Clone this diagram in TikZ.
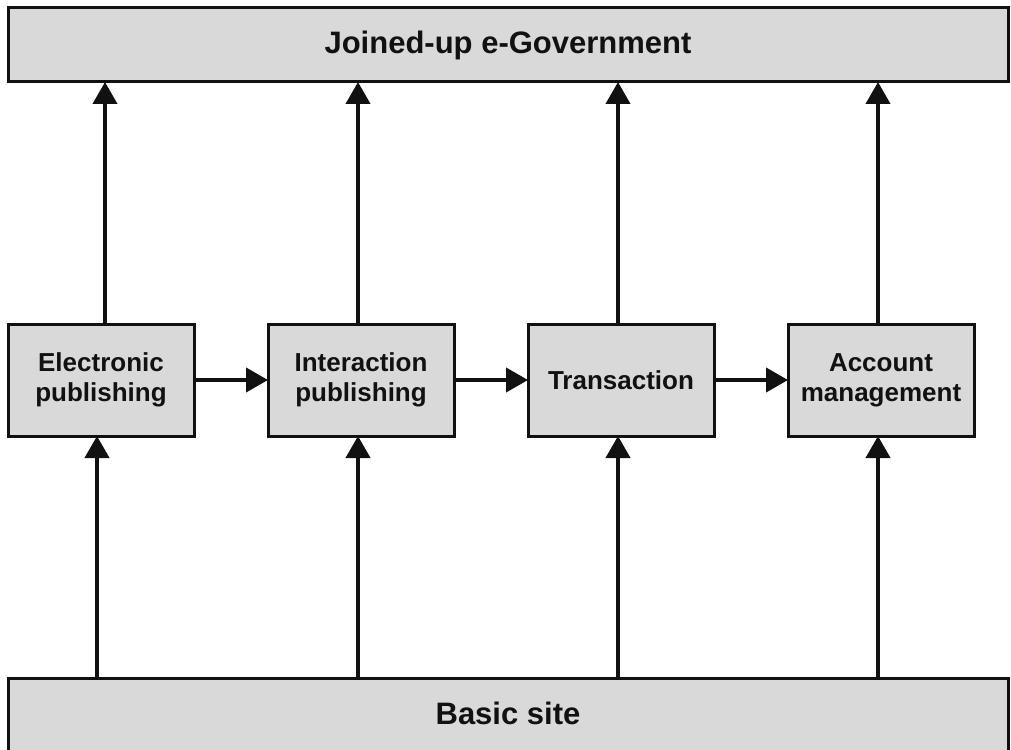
\documentclass[tikz,border=0pt]{standalone}
\usepackage{fontspec}
\setmainfont{Liberation Sans}
\usetikzlibrary{arrows.meta}
\definecolor{boxgray}{HTML}{D9D9D9}
\definecolor{ink}{HTML}{111111}
\tikzset{
  stage/.style={draw=ink, fill=boxgray, line width=3pt, minimum width=186pt, minimum height=112pt,
    align=center, inner sep=0pt, outer sep=0pt, text=ink,
    font=\fontsize{26}{30}\selectfont\bfseries},
  band/.style={draw=ink, fill=boxgray, line width=3pt, minimum width=1000pt, minimum height=74pt,
    inner sep=0pt, outer sep=0pt, text=ink, font=\fontsize{31}{36}\selectfont\bfseries},
  arr/.style={draw=ink, line width=4pt, -{Triangle[length=22pt,width=24pt]}}
}
\begin{document}
\begin{tikzpicture}[x=1pt,y=-1pt]
\useasboundingbox (0,0) rectangle (1011,749);
\clip (0,0) rectangle (1011,749);
\fill[white] (0,0) rectangle (1011,749);
\node[band] (top) at (508,45) {Joined-up e-Government};
\node[band] (bot) at (508,715) {\raisebox{3pt}{Basic site}};
\node[stage] (s1) at (101,380) {Electronic\\publishing};
\node[stage] (s2) at (361,380) {Interaction\\publishing};
\node[stage] (s3) at (621,380) {Transaction};
\node[stage] (s4) at (881,380) {Account\\management};
% up to top
\draw[arr] ([xshift=4pt]s1.north) -- ([xshift=4pt]s1.north |- top.south);
\draw[arr] ([xshift=-3pt]s2.north) -- ([xshift=-3pt]s2.north |- top.south);
\draw[arr] ([xshift=-3pt]s3.north) -- ([xshift=-3pt]s3.north |- top.south);
\draw[arr] ([xshift=-3pt]s4.north) -- ([xshift=-3pt]s4.north |- top.south);
% up from bottom
\draw[arr] ([xshift=-4pt]s1.south |- bot.north) -- ([xshift=-4pt]s1.south);
\draw[arr] ([xshift=-3pt]s2.south |- bot.north) -- ([xshift=-3pt]s2.south);
\draw[arr] ([xshift=-3pt]s3.south |- bot.north) -- ([xshift=-3pt]s3.south);
\draw[arr] ([xshift=-3pt]s4.south |- bot.north) -- ([xshift=-3pt]s4.south);
% horizontal
\draw[arr] (s1.east) -- (s2.west);
\draw[arr] (s2.east) -- (s3.west);
\draw[arr] (s3.east) -- (s4.west);
\end{tikzpicture}
\end{document}
